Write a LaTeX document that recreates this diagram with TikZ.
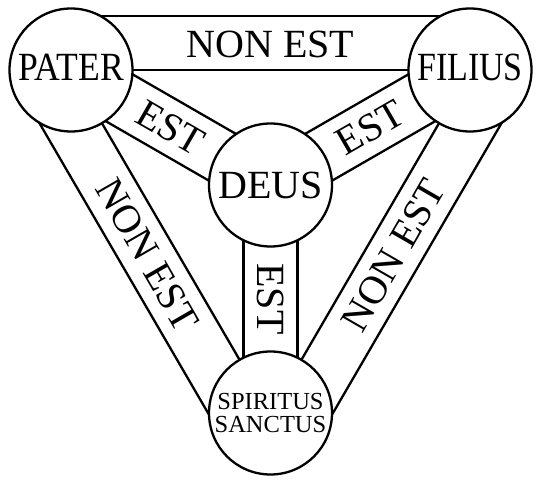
\documentclass[tikz,border=0pt]{standalone}
\usepackage{fontspec}
\setmainfont{Liberation Serif}
\usepackage{tikz}
\usetikzlibrary{calc, backgrounds}
\tikzset{
  band/.style={draw=black, fill=white, line width=2.3pt},
  person/.style={draw=black, fill=white, circle, line width=2.3pt, minimum size=123pt, inner sep=0pt, align=center, font=\fontsize{40}{40}\selectfont},
  word/.style={inner sep=0pt, font=\fontsize{40}{40}\selectfont}
}

\begin{document}
\begin{tikzpicture}[x=1pt, y=1pt]
  \useasboundingbox (0,0) rectangle (540,484);

  \node [person, text depth=6pt] (pater) at (71,414) {\scalebox{0.89}[1]{PATER}};
  \node [person, text depth=6pt] (filius) at (470,414) {\scalebox{0.85}[1]{FILIUS}};
  \node [person] (deus) at (270.5,299) {DEUS};
  \node [person, font=\fontsize{24.5}{23.3}\selectfont] (spiritus) at (270.5,71) {SPIRITUS\\SANCTUS};

  % outer bands: NON EST
  \node [word] (nonest1) at ($(pater.center)!0.5!(filius.center)!26pt!90:(filius.center)$) {NON EST};
  \node [word, rotate=-60] (nonest2) at ($(spiritus.center)!0.5!(pater.center)!27pt!90:(pater.center)$) {NON EST};
  \node [word, rotate=60] (nonest3) at ($(filius.center)!0.5!(spiritus.center)!27pt!90:(spiritus.center)$) {NON EST};

  % inner bands: EST
  \node [word, rotate=-30] (est1) at ($(pater.center)!0.5!(deus.center)$) {EST};
  \node [word, rotate=30] (est2) at ($(deus.center)!0.5!(filius.center)$) {EST};
  \node [word, rotate=-90] (est3) at ($(deus.center)!0.5!(spiritus.center)$) {EST};

  \begin{scope}[on background layer]
    \fill [white] (0,0) rectangle (540,484);
    \foreach \a/\b in {pater/filius, filius/spiritus, spiritus/pater}
      \draw [band] (\a.center) -- ($(\a.center)!54pt!90:(\b.center)$) -- ($(\b.center)!54pt!-90:(\a.center)$) -- (\b.center) -- cycle;
    \foreach \a in {pater, filius, spiritus}
      \draw [band] ($(\a.center)!27pt!90:(deus.center)$) -- ($(deus.center)!27pt!-90:(\a.center)$) -- ($(deus.center)!27pt!90:(\a.center)$) -- ($(\a.center)!27pt!-90:(deus.center)$) -- cycle;
  \end{scope}
\end{tikzpicture}
\end{document}
